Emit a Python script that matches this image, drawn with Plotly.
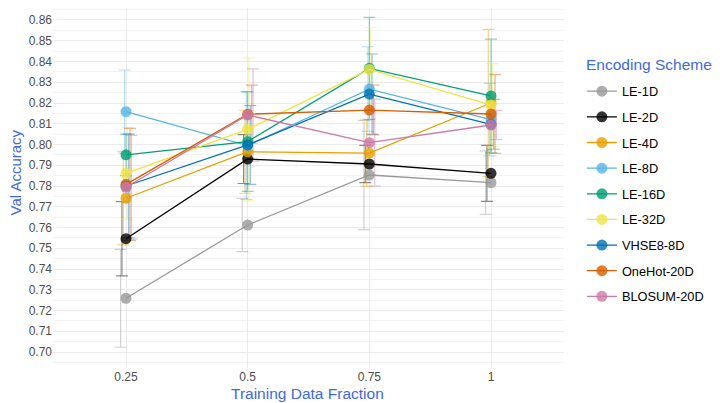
import plotly.graph_objects as go

fractions = ["0.25", "0.5", "0.75", "1"]
schemes = ["LE-1D", "LE-2D", "LE-4D", "LE-8D", "LE-16D", "LE-32D",
           "VHSE8-8D", "OneHot-20D", "BLOSUM-20D"]
colors = ["#999999", "#000000", "#E69F00", "#56B4E9", "#009E73", "#F0E442",
          "#0072B2", "#D55E00", "#CC79A7"]

mean_le1 = [0.7259, 0.7612, 0.7853, 0.7816]
mean_le2 = [0.7546, 0.7930, 0.7906, 0.7861]
mean_le4 = [0.7741, 0.7965, 0.7958, 0.8200]
mean_le8 = [0.8158, 0.7995, 0.8267, 0.8120]
mean_le16 = [0.7950, 0.8014, 0.8367, 0.8234]
mean_le32 = [0.7861, 0.8073, 0.8362, 0.8190]
mean_vhse = [0.7800, 0.7998, 0.8243, 0.8097]
mean_onehot = [0.7808, 0.8146, 0.8166, 0.8147]
mean_blosum = [0.7794, 0.8142, 0.8009, 0.8094]

sd_le1 = [0.0236, 0.0128, 0.0263, 0.0153]
sd_le2 = [0.0179, 0.0118, 0.0090, 0.0135]
sd_le4 = [0.0225, 0.0200, 0.0160, 0.0355]
sd_le8 = [0.0201, 0.0260, 0.0204, 0.0175]
sd_le16 = [0.0100, 0.0240, 0.0246, 0.0274]
sd_le32 = [0.0220, 0.0345, 0.0203, 0.0200]
sd_vhse = [0.0250, 0.0190, 0.0193, 0.0120]
sd_onehot = [0.0270, 0.0140, 0.0120, 0.0190]
sd_blosum = [0.0250, 0.0222, 0.0210, 0.0070]

means = [mean_le1, mean_le2, mean_le4, mean_le8, mean_le16, mean_le32,
         mean_vhse, mean_onehot, mean_blosum]
sds = [sd_le1, sd_le2, sd_le4, sd_le8, sd_le16, sd_le32,
       sd_vhse, sd_onehot, sd_blosum]

dodge = 0.1
n = len(schemes)
base_x = list(range(1, len(fractions) + 1))

TITLE_BLUE = "#4169E1"


def rgba(hexc, a):
    h = hexc.lstrip("#")
    r, g, b = int(h[0:2], 16), int(h[2:4], 16), int(h[4:6], 16)
    return f"rgba({r},{g},{b},{a})"


fig = go.Figure()

# error bars layer (dodged)
for i, name in enumerate(schemes):
    off = -dodge / 2 + dodge / n * (i + 0.5)
    xs = [b + off for b in base_x]
    fig.add_trace(go.Scatter(
        x=xs, y=means[i], mode="markers",
        marker=dict(size=1, opacity=0),
        error_y=dict(type="data", array=sds[i], visible=True,
                     color=rgba(colors[i], 0.45), thickness=1.2, width=6),
        showlegend=False, hoverinfo="skip"))

# lines + points (not dodged)
for i, name in enumerate(schemes):
    fig.add_trace(go.Scatter(
        x=base_x, y=means[i], mode="lines+markers", name=name,
        line=dict(color=colors[i], width=1.3),
        marker=dict(color=rgba(colors[i], 0.8), size=11),
        legendgroup=name))

fig.update_layout(
    width=712, height=395,
    margin=dict(l=45, r=156, t=0, b=35, autoexpand=False),
    paper_bgcolor="white", plot_bgcolor="white",
    font=dict(family="Liberation Sans, Arial, sans-serif", size=12, color="#4D4D4D"),
    legend=dict(
        font=dict(size=12.8, color="black"),
        x=1.035, xanchor="left", y=0.81, yanchor="top",
        tracegroupgap=6, itemwidth=30,
        bgcolor="rgba(0,0,0,0)"),
    xaxis=dict(
        range=[0.4, 4.6], tickmode="array", tickvals=base_x, ticktext=fractions,
        showgrid=True, gridcolor="#EBEBEB", gridwidth=1, zeroline=False,
        showline=False, ticks="", automargin=False,
        tickfont=dict(size=12, color="#4D4D4D")),
    yaxis=dict(
        range=[0.69229, 0.86578], dtick=0.01, tick0=0.70, tickformat=".2f",
        showgrid=True, gridcolor="#EBEBEB", gridwidth=1, zeroline=False,
        showline=False, ticks="", automargin=False,
        tickfont=dict(size=12, color="#4D4D4D"),
        minor=dict(dtick=0.005, tick0=0.695, showgrid=True, gridcolor="#F3F3F3", gridwidth=0.6)),
    annotations=[
        dict(text="Encoding Scheme", xref="paper", yref="paper",
             x=1.04, y=0.8417, xanchor="left", yanchor="middle",
             showarrow=False, font=dict(size=15.5, color=TITLE_BLUE)),
        dict(text="Training Data Fraction", xref="paper", yref="paper",
             x=0.499, y=0, yshift=-25, xanchor="center", yanchor="middle",
             showarrow=False, font=dict(size=15.5, color=TITLE_BLUE)),
        dict(text="Val Accuracy", xref="paper", yref="paper",
             x=0, xshift=-37.5, y=0.5417, xanchor="center", yanchor="middle",
             textangle=-90, showarrow=False, font=dict(size=15, color=TITLE_BLUE)),
    ],
)

fig.write_html("out.html")
